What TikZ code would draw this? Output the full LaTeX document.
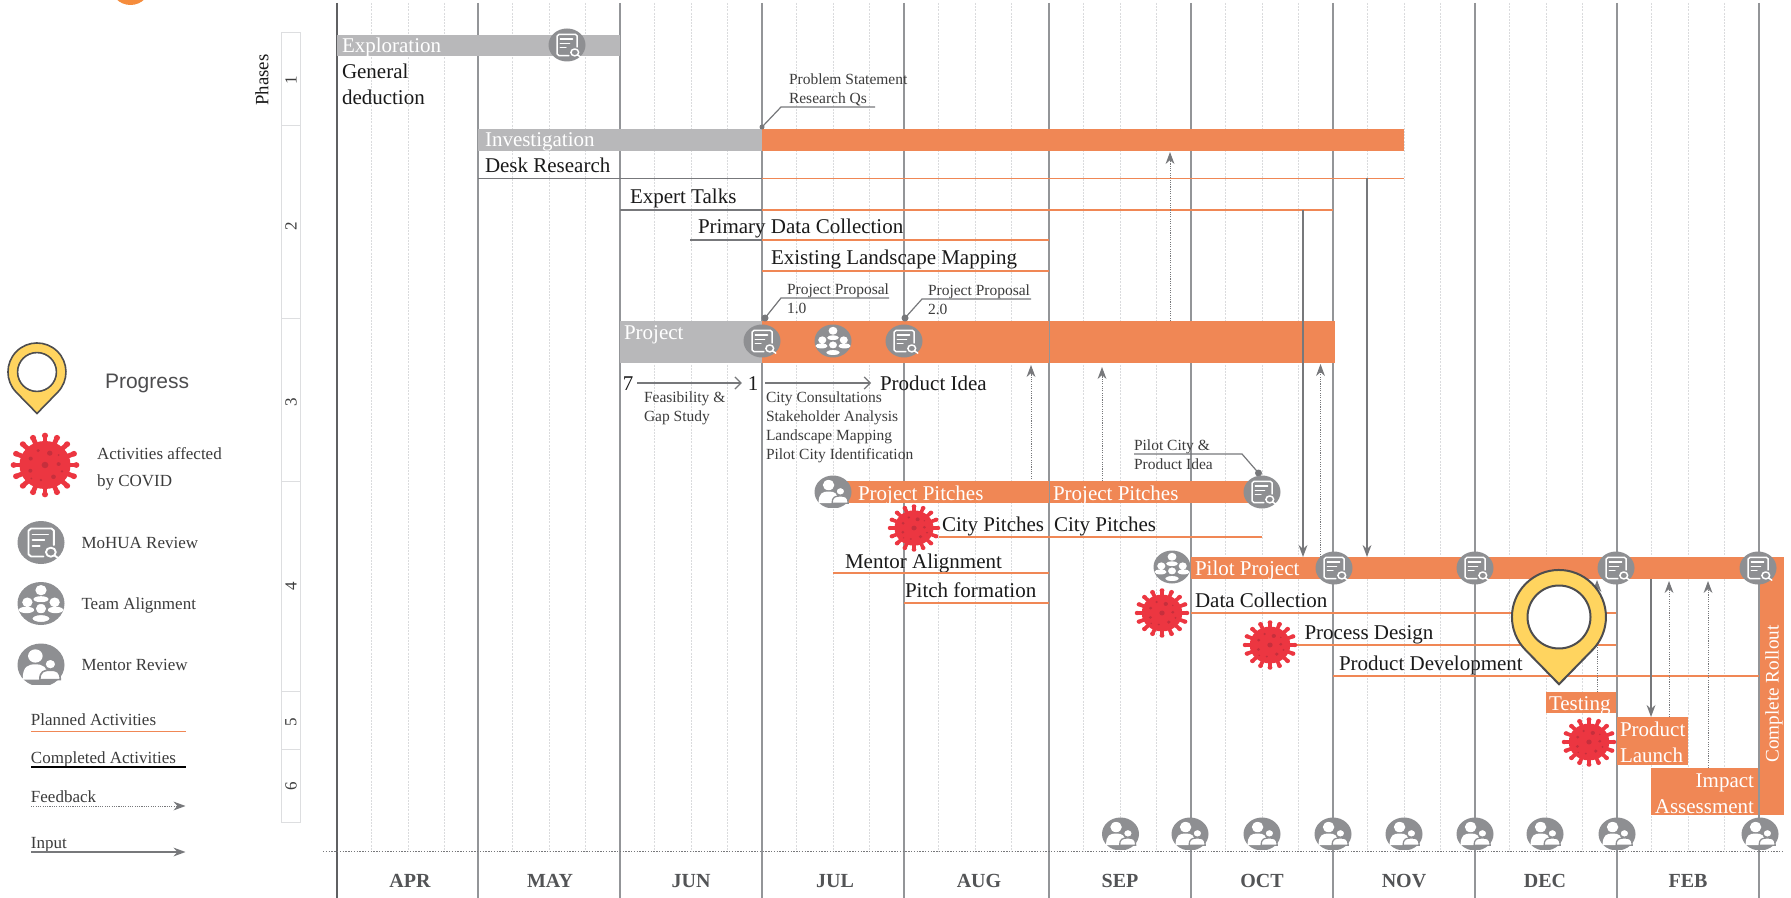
\documentclass[tikz,border=0pt]{standalone}
\usepackage{fontspec}
\setmainfont{Liberation Serif}
\newfontfamily\legsans{Liberation Sans}
\usetikzlibrary{arrows.meta,shapes.geometric}
\definecolor{barorange}{HTML}{F08755}
\definecolor{bargrey}{HTML}{B8B8BA}
\definecolor{icongrey}{HTML}{8E8F92}
\definecolor{linegrey}{HTML}{77787B}
\definecolor{monthgrey}{HTML}{939598}
\definecolor{subgrey}{HTML}{DADBDD}
\definecolor{virusred}{HTML}{EC3641}
\definecolor{virusdark}{HTML}{C62F3C}
\definecolor{pinyellow}{HTML}{FFD45F}
\definecolor{pinline}{HTML}{4D4D4F}
\definecolor{txt}{HTML}{1A1A1A}
\definecolor{phaseline}{HTML}{DDDEE0}
\definecolor{blob}{HTML}{F58C3C}
\tikzset{
  lab/.style={inner sep=0,outer sep=0,anchor=west,yshift=-1.25pt,text=txt,font=\fontsize{10.5}{12}\selectfont,text height=.68em,text depth=.2em},
  smalllab/.style={lab,yshift=.75pt,font=\fontsize{7.75}{9}\selectfont,text=txt!85!white},
  leglab/.style={lab,yshift=.75pt,font=\fontsize{8.5}{10}\selectfont,text=txt!85!white},
  wlab/.style={lab,text=white},
  monthlab/.style={inner sep=0,font=\fontsize{10}{12}\selectfont\bfseries,text=linegrey!70!black},
  phasenum/.style={inner sep=0,rotate=90,font=\fontsize{8.5}{10}\selectfont,text=txt!85!white},
  planned/.style={barorange,line width=.8pt},
  done/.style={linegrey,line width=.8pt},
  leader/.style={linegrey,line width=.6pt},
  inputarrow/.style={linegrey,line width=.7pt,-{Stealth[length=6pt,width=4.4pt]}},
  feedarrow/.style={linegrey,line width=.5pt,dash pattern=on .55pt off .6pt,-{Stealth[length=6pt,width=4.4pt]}},
  openarrow/.style={linegrey,line width=.6pt,-{Straight Barb[length=3pt,width=6pt]}},
  iconbase/.style={ellipse,inner sep=0,outer sep=0},
  iconline/.style={white,line cap=round,line join=round}
}
% bar as a named node
\newcommand{\ganttbar}[6]{\node[inner sep=0,outer sep=0,fill=#6,minimum width={(#4-#2)*0.5pt},minimum height={(#5-#3)*0.5pt},anchor=north west] (#1) at (#2,#3) {};}
% name, x, y, rx, ry
\newcommand{\reviewicon}[5]{%
  \node[iconbase,fill=icongrey,minimum width={#4*1pt},minimum height={#5*1pt}] (#1) at (#2,#3) {};
  \begin{scope}[shift={(#2,#3)},xscale=#4,yscale=#5]
    \draw[iconline,line width={#4*.04pt}] (.1,.65) -- (-.42,.65) -- (-.53,.55) -- (-.53,-.55) -- (-.42,-.65) -- (.45,-.65) -- (.55,-.55) -- (.55,.12);
    \draw[iconline,line width={#4*.04pt}] (-.36,-.37) -- (.3,-.37) (-.36,-.1) -- (.14,-.1) (-.36,.16) -- (-.06,.16);
    \draw[iconline,line width={#4*.04pt}] (.42,.45) circle[radius=.21] (.57,.6) -- (.75,.74);
  \end{scope}}
\newcommand{\teamicon}[5]{%
  \node[iconbase,fill=icongrey,minimum width={#4*1pt},minimum height={#5*1pt}] (#1) at (#2,#3) {};
  \begin{scope}[shift={(#2,#3)},xscale=#4,yscale=#5]
    \fill[white] (0,-.62) circle[radius=.24] (0,-.2) ellipse[x radius=.32,y radius=.14];
    \fill[white] (-.58,-.06) circle[radius=.22] (-.62,.3) ellipse[x radius=.33,y radius=.15];
    \fill[white] (.58,-.06) circle[radius=.22] (.62,.3) ellipse[x radius=.33,y radius=.15];
    \filldraw[fill=white,draw=icongrey,line width={#4*.035pt}] (0,.24) circle[radius=.26];
    \filldraw[fill=white,draw=icongrey,line width={#4*.035pt}] (0,.7) ellipse[x radius=.4,y radius=.2];
  \end{scope}}
\newcommand{\mentoricon}[5]{%
  \node[iconbase,minimum width={#4*1pt},minimum height={#5*1pt}] (#1) at (#2,#3) {};
  \begin{scope}[shift={(#2,#3)},xscale=#4,yscale=#5]
    \begin{scope}
      \clip (-1.1,-1.1) rectangle (1.1,.92);
      \fill[icongrey] (0,0) circle[radius=1];
    \end{scope}
    \fill[white] (-.24,-.42) circle[radius=.31];
    \fill[white] (-.78,.68) .. controls (-.78,.05) and (-.55,-.03) .. (-.24,-.03) .. controls (.07,-.03) and (.3,.05) .. (.3,.68) -- cycle;
    \filldraw[fill=white,draw=icongrey,line width={#4*.035pt}] (.4,-.04) circle[radius=.24];
    \filldraw[fill=white,draw=icongrey,line width={#4*.035pt}] (-.05,.68) .. controls (-.05,.3) and (.12,.24) .. (.4,.24) .. controls (.68,.24) and (.82,.3) .. (.82,.68) -- cycle;
  \end{scope}}
\newcommand{\virusicon}[5]{%
  \node[iconbase,minimum width={#4*1pt},minimum height={#5*1pt}] (#1) at (#2,#3) {};
  \begin{scope}[shift={(#2,#3)},xscale=#4,yscale=#5]
    \foreach \a in {0,22.5,...,337.5}{
      \draw[virusred,line width={#4*.07pt}] (\a:.7) -- (\a:.9);
      \fill[virusred] (\a:.92) circle[radius=.09];
    }
    \fill[virusred] (0,0) circle[radius=.75];
    \fill[virusdark] (0,0) circle[radius=.1] (.14,-.37) circle[radius=.08] (-.2,-.45) circle[radius=.05]
      (-.42,-.2) circle[radius=.06] (.4,-.03) circle[radius=.06] (-.43,.18) circle[radius=.06]
      (.25,.37) circle[radius=.07] (-.12,.47) circle[radius=.04] (.5,.2) circle[radius=.04]
      (-.4,.42) circle[radius=.03] (.4,-.31) circle[radius=.03];
  \end{scope}}
% name, cx, cy, R, line width
\newcommand{\pinicon}[5]{%
  \coordinate (#1) at (#2,#3);
  \begin{scope}[shift={(#2,#3)},scale=#4]
    \filldraw[fill=pinyellow,draw=pinline,line width=#5,line join=miter] (0,1.43) -- (.712,.7) arc[start angle=44.5,end angle=-224.5,radius=1] -- cycle;
    \filldraw[fill=white,draw=pinline,line width=#5] (0,0) circle[radius=.67];
  \end{scope}}
\begin{document}
\begin{tikzpicture}[x=0.5pt,y=-0.5pt]
\useasboundingbox (0,0) rectangle (1791,898);
\clip (0,0) rectangle (1791,898);
\fill[white] (0,0) rectangle (1791,898);
% corner blob
\fill[blob] (130.5,-15) circle[radius=20];

% grid
\foreach \m in {337,478,620,762,904,1049,1191,1333,1475,1617}{
  \foreach \o in {34,71,107}{
    \draw[subgrey,line width=.35pt,dash pattern=on 1pt off .6pt] (\m+\o,3) -- (\m+\o,852);
  }
}
\foreach \m in {478,620,762,904,1049,1191,1333,1475,1617,1759}{
  \draw[monthgrey,line width=.6pt] (\m,3) -- (\m,898);
}
\draw[linegrey!80!black,line width=.65pt] (337,3) -- (337,898);
\draw[linegrey,line width=.6pt,dash pattern=on .7pt off .7pt] (323,851.5) -- (1784,851.5);

% phase column
\draw[phaseline,line width=.5pt] (281,33) rectangle (300,822);
\foreach \yy in {126,319,481,691,749}{\draw[phaseline,line width=.5pt] (281,\yy) -- (300,\yy);}
\node[inner sep=0,rotate=90,font=\fontsize{9.4}{11}\selectfont,text=txt] (phases) at (262,80) {Phases};
\node[phasenum] (ph1) at (291,80) {1};
\node[phasenum] (ph2) at (291,226) {2};
\node[phasenum] (ph3) at (291,402) {3};
\node[phasenum] (ph4) at (291,586) {4};
\node[phasenum] (ph5) at (291,722) {5};
\node[phasenum] (ph6) at (291,786) {6};

% months
\foreach \n/\t/\xx in {mapr/APR/410,mmay/MAY/550,mjun/JUN/691,mjul/JUL/835,maug/AUG/979,msep/SEP/1120,moct/OCT/1262,mnov/NOV/1404,mdec/DEC/1545,mfeb/FEB/1688}{
  \node[monthlab] (\n) at (\xx,881) {\t};
}

% bars
\ganttbar{exploration}{337}{35}{620}{56}{bargrey}
\ganttbar{invgrey}{478}{129}{762}{151}{bargrey}
\ganttbar{invorange}{762}{129}{1404}{151}{barorange}
\ganttbar{projgrey}{620}{321}{762}{363}{bargrey}
\ganttbar{projorangeA}{762}{321}{1048.5}{363}{barorange}
\ganttbar{projorangeB}{1050}{321}{1335}{363}{barorange}
\ganttbar{pitchA}{833}{481}{1048.5}{503}{barorange}
\ganttbar{pitchB}{1050}{481}{1262}{503}{barorange}
\ganttbar{pilot}{1191}{557}{1784}{579}{barorange}
\ganttbar{rollout}{1760}{557}{1784}{815}{barorange}
\ganttbar{testing}{1546}{692}{1616}{713}{barorange}
\ganttbar{launch}{1617}{717}{1688}{765}{barorange}
\ganttbar{impact}{1651}{768}{1758}{815}{barorange}

% bar labels
\node[wlab] (texpl) at (342,45) {Exploration};
\node[wlab] (tinv) at (485,139) {Investigation};
\node[wlab] (tproj) at (624,332) {Project};
\node[wlab] (tpitchA) at (858,493) {Project Pitches};
\node[wlab] (tpitchB) at (1053,493) {Project Pitches};
\node[wlab] (tpilot) at (1195,568) {Pilot Project};
\node[wlab] (ttest) at (1549,703) {Testing};
\node[wlab] (tlaunchA) at (1620,729) {Product};
\node[wlab] (tlaunchB) at (1620,755) {Launch};
\node[wlab,anchor=east] (timpA) at (1754,780) {Impact};
\node[wlab,anchor=east] (timpB) at (1754,806) {Assessment};
\node[inner sep=0,rotate=90,text=white,font=\fontsize{9.6}{11}\selectfont] (troll) at (1774,694) {Complete Rollout};

% activities
\node[lab] (tgen) at (342,71) {General};
\node[lab] (tded) at (342,97) {deduction};
\node[lab] (tdesk) at (485,165) {Desk Research};
\draw[done] (478,178.5) -- (762,178.5);
\draw[planned] (762,178.5) -- (1404,178.5);
\node[lab] (texp) at (630,196) {Expert Talks};
\draw[done] (620,210) -- (762,210);
\draw[planned] (762,210) -- (1333,210);
\node[lab] (tprim) at (698,226) {Primary Data Collection};
\draw[done] (690,240) -- (762,240);
\draw[planned] (762,240) -- (1049,240);
\node[lab] (tland) at (771,257) {Existing Landscape Mapping};
\draw[planned] (762,271) -- (1049,271);

\node[lab] (tcityA) at (942,524) {City Pitches};
\node[lab] (tcityB) at (1054,524) {City Pitches};
\draw[planned] (939,537) -- (1262,537);
\node[lab] (tment) at (845,561) {Mentor Alignment};
\draw[planned] (833,573) -- (1049,573);
\node[lab] (tpf) at (905,590) {Pitch formation};
\draw[planned] (904,603) -- (1049,603);
\node[lab] (tdc) at (1195,600) {Data Collection};
\draw[planned] (1191,613) -- (1616,613);
\node[lab] (tpd) at (1304.5,632) {Process Design};
\draw[planned] (1296,645) -- (1616,645);
\node[lab] (tpdv) at (1339,663) {Product Development};
\draw[planned] (1333,676) -- (1759,676);

% annotations
\node[smalllab] (psA) at (789,79) {Problem Statement};
\node[smalllab] (psB) at (789,98) {Research Qs};
\coordinate (psdot) at (762,127);
\coordinate (psk) at (781,107);
\coordinate (pse) at (875,107);
\draw[leader] (psdot) -- (psk) -- (pse);
\fill[linegrey] (psdot) circle[radius=2.5];

\node[smalllab] (ppA) at (787,289) {Project Proposal};
\node[smalllab] (ppAb) at (787,308) {1.0};
\coordinate (ppAdot) at (765,318);
\coordinate (ppAk) at (781,298);
\coordinate (ppAe) at (889,298);
\draw[leader] (ppAdot) -- (ppAk) -- (ppAe);
\fill[linegrey] (ppAdot) circle[radius=3.5];
\node[smalllab] (ppB) at (928,290) {Project Proposal};
\node[smalllab] (ppBb) at (928,309) {2.0};
\coordinate (ppBdot) at (905,318);
\coordinate (ppBk) at (922,299);
\coordinate (ppBe) at (1031,299);
\draw[leader] (ppBdot) -- (ppBk) -- (ppBe);
\fill[linegrey] (ppBdot) circle[radius=3.5];

\node[smalllab] (pcA) at (1134,445) {Pilot City \&};
\node[smalllab] (pcB) at (1134,464) {Product Idea};
\coordinate (pcs) at (1134,454);
\coordinate (pck) at (1242,454);
\coordinate (pcdot) at (1258.5,473);
\draw[leader] (pcs) -- (pck) -- (pcdot);
\fill[linegrey] (pcdot) circle[radius=3.5];

\node[lab,anchor=center] (seven) at (628,383) {7};
\node[lab,anchor=center] (one) at (753,383) {1};
\node[lab] (idea) at (880,383) {Product Idea};
\draw[openarrow] ([xshift=2pt,yshift=1.25pt]seven.east) -- ([xshift=-3pt,yshift=1.25pt]one.west);
\draw[openarrow] ([xshift=3.5pt,yshift=1.25pt]one.east) -- ([xshift=-4.5pt,yshift=1.25pt]idea.west);
\node[smalllab] (feasA) at (644,397) {Feasibility \&};
\node[smalllab] (feasB) at (644,416) {Gap Study};
\node[smalllab] (actA) at (766,397) {City Consultations};
\node[smalllab] (actB) at (766,416) {Stakeholder Analysis};
\node[smalllab] (actC) at (766,435) {Landscape Mapping};
\node[smalllab] (actD) at (766,454) {Pilot City Identification};

% input / feedback connectors
\coordinate (fa1) at (1031,479);  \coordinate (fa2) at (1031,365);
\coordinate (fb1) at (1102,481);  \coordinate (fb2) at (1102,367);
\coordinate (fc1) at (1170,321);  \coordinate (fc2) at (1170,152);
\coordinate (fd1) at (1320.5,557);\coordinate (fd2) at (1320.5,364);
\coordinate (fe1) at (1597,692);  \coordinate (fe2) at (1597,580);
\coordinate (ff1) at (1669,717);  \coordinate (ff2) at (1669,581);
\coordinate (fg1) at (1708,768);  \coordinate (fg2) at (1708,581);
\draw[feedarrow] (fa1) -- (fa2);
\draw[feedarrow] (fb1) -- (fb2);
\draw[feedarrow] (fc1) -- (fc2);
\draw[feedarrow] (fd1) -- (fd2);
\draw[feedarrow] (fe1) -- (fe2);
\draw[feedarrow] (ff1) -- (ff2);
\draw[feedarrow] (fg1) -- (fg2);
\coordinate (ia1) at (1303,210);  \coordinate (ia2) at (1303,557);
\coordinate (ib1) at (1367,178.5);\coordinate (ib2) at (1367,557);
\coordinate (ic1) at (1651,579);  \coordinate (ic2) at (1651,717);
\draw[inputarrow] (ia1) -- (ia2);
\draw[inputarrow] (ib1) -- (ib2);
\draw[inputarrow] (ic1) -- (ic2);

% icons on the chart
\reviewicon{rvExpl}{567}{45}{18.5}{16.5}
\reviewicon{rvPA}{762}{341}{18.5}{16.5}
\teamicon{tmP}{833}{341}{18.5}{16.5}
\reviewicon{rvPB}{904}{341}{18.5}{16.5}
\mentoricon{mnPitch}{833}{492}{18.5}{16.5}
\reviewicon{rvPitch}{1262}{492}{18.5}{16.5}
\teamicon{tmPilot}{1172}{567}{18.5}{16.5}
\reviewicon{rvA}{1334}{568}{18.5}{16.5}
\reviewicon{rvB}{1475}{568}{18.5}{16.5}
\reviewicon{rvC}{1616}{568}{18.5}{16.5}
\reviewicon{rvD}{1758}{568}{18.5}{16.5}
\foreach \n/\xx in {a/1120.5,b/1190,c/1262,d/1333,e/1404,f/1475,g/1545,h/1617,i/1760}{
  \mentoricon{mnRow\n}{\xx}{834}{18.5}{16.5}
}
\virusicon{vCity}{914}{528}{26}{23.5}
\virusicon{vData}{1162}{613}{27}{24.5}
\virusicon{vProc}{1270}{645}{27}{24.5}
\virusicon{vLaunch}{1589}{742}{27}{24.5}
\pinicon{pinChart}{1559}{617}{47}{1pt}

% legend
\pinicon{pinLeg}{37}{372}{29}{.8pt}
\node[lab,yshift=-.5pt,font=\legsans\fontsize{10.5}{12}\selectfont,text=pinline] (lgProg) at (105,380) {Progress};
\virusicon{lgVirus}{45}{465}{34}{32}
\node[leglab] (lgCovA) at (97,454) {Activities affected};
\node[leglab] (lgCovB) at (97,480.5) {by COVID};
\reviewicon{lgRev}{41}{542.5}{23.5}{21.5}
\node[leglab] (lgRevT) at (81.5,543) {MoHUA Review};
\teamicon{lgTeam}{41}{603.5}{23.5}{21.5}
\node[leglab] (lgTeamT) at (81.5,604) {Team Alignment};
\mentoricon{lgMent}{41}{665}{23.5}{21.5}
\node[leglab] (lgMentT) at (81.5,665) {Mentor Review};
\node[leglab] (lgPlan) at (31,720) {Planned Activities};
\node[leglab] (lgComp) at (31,758) {Completed Activities};
\node[leglab] (lgFeed) at (31,797) {Feedback};
\node[leglab] (lgInp) at (31,843) {Input};
\coordinate (lp1) at (31,731.5); \coordinate (lp2) at (185.5,731.5);
\coordinate (lc1) at (31,767);   \coordinate (lc2) at (185.5,767);
\coordinate (lf1) at (31,806);   \coordinate (lf2) at (185.5,806);
\coordinate (li1) at (31,852);   \coordinate (li2) at (185.5,852);
\draw[planned] (lp1) -- (lp2);
\draw[black,line width=.7pt] (lc1) -- (lc2);
\draw[feedarrow] (lf1) -- (lf2);
\draw[inputarrow] (li1) -- (li2);
\end{tikzpicture}
\end{document}
